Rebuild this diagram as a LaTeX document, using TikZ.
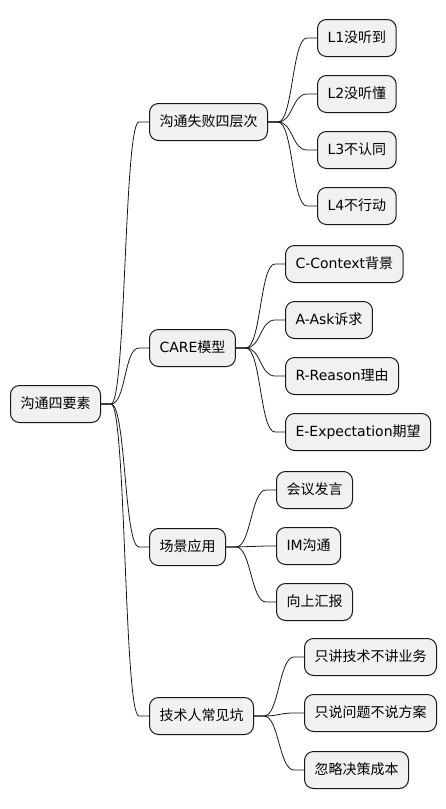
\documentclass[tikz,border=0pt]{standalone}
\usepackage{fontspec}
\setmainfont{DejaVu Sans}
\newfontfamily\cjk{Noto Sans CJK SC}
\definecolor{boxfill}{HTML}{F1F1F1}
\definecolor{boxline}{HTML}{181818}

\begin{document}
\begin{tikzpicture}[
	x=1pt, y=-1pt,
	topic/.style = {draw=boxline, fill=boxfill, line width=1pt,
		rounded corners=9pt, minimum height=37pt, inner xsep=10pt,
		anchor=west, font=\fontsize{14}{17}\selectfont,
		text height=11pt, text depth=3pt},
	branch/.style = {draw=boxline, line width=0.8pt}
	]
	\useasboundingbox (0,0) rectangle (446,809);
	% root
	\node [topic] (root) at (10,404) {\cjk 沟通四要素};
	% level 1
	\node [topic] (fail) at (149,122) {\cjk 沟通失败四层次};
	\node [topic] (care) at (149,348) {CARE\cjk 模型};
	\node [topic] (scene) at (149,547) {\cjk 场景应用};
	\node [topic] (pit) at (149,716) {\cjk 技术人常见坑};
	% level 2
	\node [topic] (l1) at (317,38) {L1\cjk 没听到};
	\node [topic] (l2) at (317,94) {L2\cjk 没听懂};
	\node [topic] (l3) at (317,150) {L3\cjk 不认同};
	\node [topic] (l4) at (317,206) {L4\cjk 不行动};
	\node [topic] (cc) at (285,264) {C-Context\cjk 背景};
	\node [topic] (ca) at (285,320) {A-Ask\cjk 诉求};
	\node [topic] (cr) at (285,376) {R-Reason\cjk 理由};
	\node [topic] (ce) at (285,432) {E-Expectation\cjk 期望};
	\node [topic] (meet) at (276,490) {\cjk 会议发言};
	\node [topic] (im) at (276,546) {IM\cjk 沟通};
	\node [topic] (up) at (276,602) {\cjk 向上汇报};
	\node [topic] (biz) at (304,657) {\cjk 只讲技术不讲业务};
	\node [topic] (plan) at (304,713) {\cjk 只说问题不说方案};
	\node [topic] (cost) at (304,770) {\cjk 忽略决策成本};
	% connectors
	\foreach \p/\c in {root/fail, root/care, root/scene, root/pit,
		fail/l1, fail/l2, fail/l3, fail/l4,
		care/cc, care/ca, care/cr, care/ce,
		scene/meet, scene/im, scene/up,
		pit/biz, pit/plan, pit/cost}
	\draw [branch] (\p.east) -- ([xshift=10pt]\p.east)
		.. controls ([xshift=25pt]\p.east) and ([xshift=-25pt]\c.west)
		.. ([xshift=-10pt]\c.west) -- (\c.west);
\end{tikzpicture}
\end{document}
